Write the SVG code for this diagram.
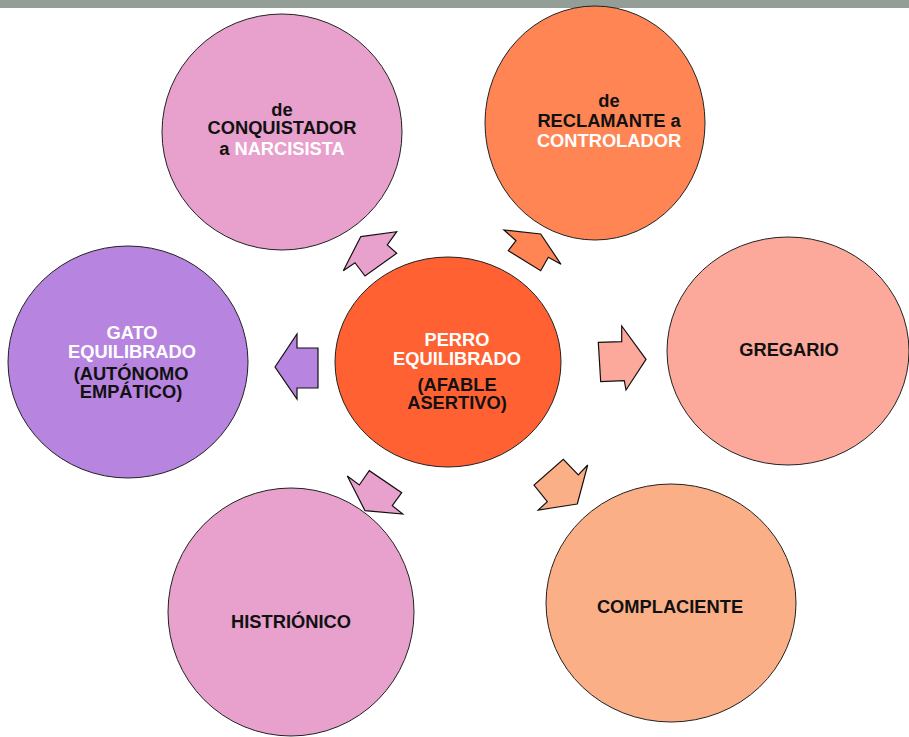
<svg xmlns="http://www.w3.org/2000/svg" width="909" height="737" viewBox="0 0 909 737">
  <style>
    .node { stroke: #222; stroke-width: 1; }
    .arrow { stroke: #111; stroke-width: 1.2; stroke-linejoin: miter; }
    text { font-family: "Liberation Sans", Arial, sans-serif; font-weight: bold; font-size: 18.3px; text-anchor: middle; fill: #111; }
    .w { fill: #ffffff; }
  </style>
  <rect x="0" y="0" width="909" height="737" fill="#ffffff"/>
  <rect x="0" y="0" width="909" height="8" fill="#939f96"/>

  <!-- connectors: block arrows pointing out from the centre -->
  <g id="connectors">
    <polygon class="arrow" fill="#e8a0cc" points="360.7,236.7 396.7,231.7 387.3,245 396.7,253.3 365,276 355,262.7 343.3,270.7"/>
    <polygon class="arrow" fill="#ff8555" points="540.7,234 561,264.3 548.3,257.3 540.7,270.7 508.3,250.7 516,240.7 504,230"/>
    <polygon class="arrow" fill="#b784e0" points="275,367 297,334 297,348 318,348 318,388 297,388 297,399"/>
    <polygon class="arrow" fill="#fca99c" points="646,359.3 626,390 624.3,380.7 600.7,381.7 598.3,342.3 621.7,341.7 621.7,326"/>
    <polygon class="arrow" fill="#e8a0cc" points="365,510.7 347.3,476 359.3,485 369.3,470.7 401.7,492.7 392.3,505.7 402.7,514"/>
    <polygon class="arrow" fill="#fbaf87" points="577.3,504 538.3,510 547.3,501.7 534,485 563.3,459.3 578.3,475 587.7,465"/>
  </g>

  <g id="conquistador">
    <ellipse class="node" cx="282" cy="132" rx="120" ry="118" fill="#e8a0cc"/>
    <text x="282" y="115.5">de</text>
    <text x="282" y="134">CONQUISTADOR</text>
    <text x="282" y="155">a <tspan class="w">NARCISISTA</tspan></text>
  </g>

  <g id="reclamante">
    <ellipse class="node" cx="595" cy="123" rx="110" ry="117" fill="#ff8555"/>
    <text x="609" y="107">de</text>
    <text x="609" y="126.5">RECLAMANTE a</text>
    <text x="609" y="146.5" class="w">CONTROLADOR</text>
  </g>

  <g id="gregario">
    <ellipse class="node" cx="788" cy="351" rx="121" ry="114" fill="#fca99c"/>
    <text x="789" y="356">GREGARIO</text>
  </g>

  <g id="gato">
    <ellipse class="node" cx="128" cy="362" rx="120" ry="116" fill="#b784e0"/>
    <text x="132" y="339.3" class="w">GATO</text>
    <text x="132" y="358.3" class="w">EQUILIBRADO</text>
    <text x="131" y="380">(AUTÓNOMO</text>
    <text x="131" y="397.7">EMPÁTICO)</text>
  </g>

  <g id="perro">
    <ellipse class="node" cx="448" cy="362" rx="113" ry="105" fill="#ff6133"/>
    <text x="457" y="346" class="w">PERRO</text>
    <text x="457" y="365" class="w">EQUILIBRADO</text>
    <text x="457" y="390.7">(AFABLE</text>
    <text x="457" y="409">ASERTIVO)</text>
  </g>

  <g id="histrionico">
    <ellipse class="node" cx="291" cy="612" rx="123" ry="124" fill="#e8a0cc"/>
    <text x="291" y="628.3">HISTRIÓNICO</text>
  </g>

  <g id="complaciente">
    <ellipse class="node" cx="671" cy="603" rx="125" ry="119" fill="#fbaf87"/>
    <text x="670" y="613.3">COMPLACIENTE</text>
  </g>
</svg>
